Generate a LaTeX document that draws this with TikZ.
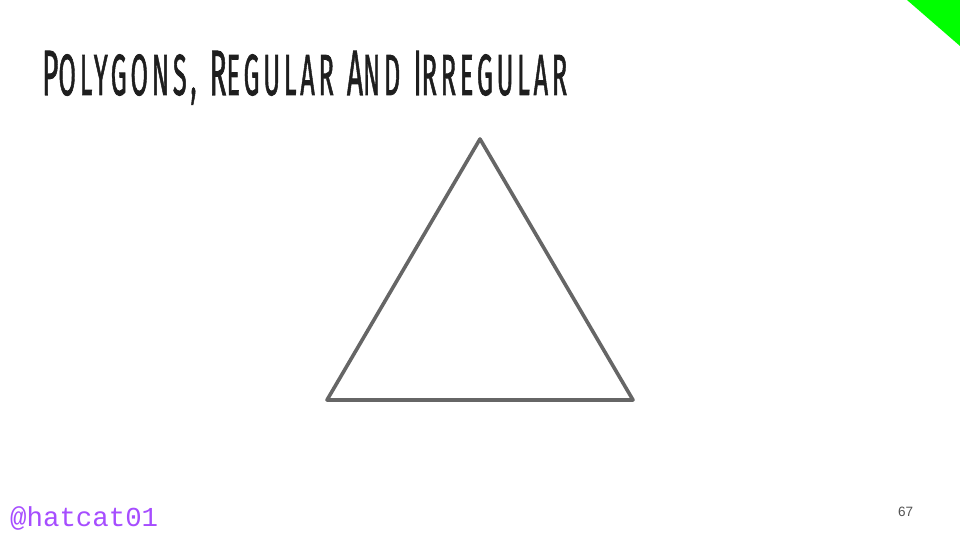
\documentclass[tikz,border=0pt]{standalone}
\usepackage{fontspec}
\usepackage{graphicx}
\setmainfont{Liberation Sans}
\newfontfamily\titlefont[LetterSpace=15,FakeBold=1.6]{Fira Sans}
\newfontfamily\handlefont{Liberation Mono}
\definecolor{edgegrey}{HTML}{666666}
\definecolor{handlepurple}{HTML}{A64DFF}
\definecolor{cornergreen}{HTML}{00FF00}
\definecolor{titleink}{HTML}{1E1E1E}
\newcommand{\bigc}[1]{{\fontsize{64}{70}\selectfont #1}}
\newcommand{\smc}[1]{{\fontsize{58}{70}\selectfont #1}}
\newcommand{\wgap}{\hspace{30pt}}
\begin{document}
\begin{tikzpicture}[x=1pt,y=-1pt,
  edge/.style={draw=edgegrey,line width=3.6pt,line join=round,line cap=round},
  titletext/.style={anchor=base west,inner sep=0pt,text=titleink,font=\titlefont},
  handle/.style={anchor=base west,inner sep=0pt,text=handlepurple,font=\handlefont\fontsize{27.4}{30}\selectfont},
  pagenum/.style={anchor=base west,inner sep=0pt,text=edgegrey!80!black,font=\fontsize{13.5}{15}\selectfont}]
\useasboundingbox (0,0) rectangle (960,540);
\fill[white] (0,0) rectangle (960,540);
% corner marker
\fill[cornergreen] (907,0) -- (960,0) -- (960,46) -- cycle;
% title
\node[titletext] (title) at (42,95) {\resizebox{525pt}{\height}{\bigc{P}\smc{OLYGONS,}\wgap\bigc{R}\smc{EGULAR}\wgap\bigc{A}\smc{ND}\wgap\bigc{I}\smc{RREGULAR}}};
% triangle
\coordinate (apex) at (480,139);
\coordinate (bl) at (327,400);
\coordinate (br) at (633,400);
\draw[edge] (apex) -- (br) -- (bl) -- cycle;
% footer
\node[handle] (handle) at (10,526) {@hatcat01};
\node[pagenum] (page) at (898,516) {67};
\end{tikzpicture}
\end{document}
